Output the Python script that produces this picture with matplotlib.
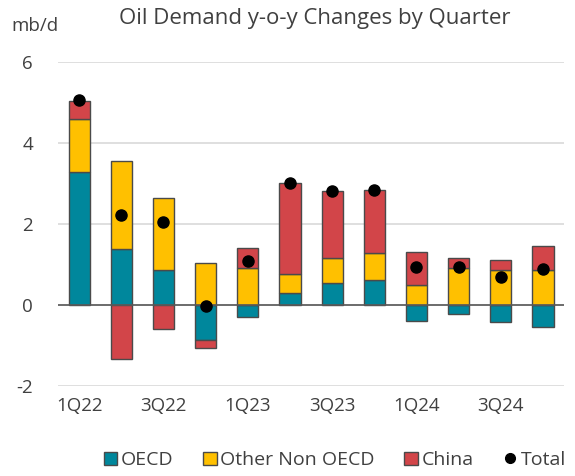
import matplotlib
matplotlib.use("Agg")
import matplotlib.pyplot as plt
import numpy as np
from matplotlib.patches import Patch
from matplotlib.lines import Line2D

quarters = ["1Q22", "2Q22", "3Q22", "4Q22", "1Q23", "2Q23", "3Q23", "4Q23",
            "1Q24", "2Q24", "3Q24", "4Q24"]
oecd = [3.27, 1.38, 0.86, -0.87, -0.30, 0.29, 0.54, 0.61, -0.39, -0.22, -0.41, -0.55]
other_non_oecd = [1.32, 2.18, 1.78, 1.04, 0.91, 0.48, 0.61, 0.68, 0.50, 0.92, 0.86, 0.86]
china = [0.45, -1.34, -0.59, -0.20, 0.49, 2.25, 1.66, 1.56, 0.81, 0.25, 0.24, 0.59]
total = [5.05, 2.22, 2.05, -0.03, 1.09, 3.02, 2.81, 2.85, 0.93, 0.95, 0.69, 0.90]

series = [("OECD", oecd, "#00879C"), ("Other Non OECD", other_non_oecd, "#FFC000"),
          ("China", china, "#D24549")]

plt.rcParams['font.family'] = ['Open Sans', 'DejaVu Sans']
plt.rcParams['axes.unicode_minus'] = False
text_color = "#404040"

fig = plt.figure(figsize=(5.75, 4.76), dpi=100)
ax = fig.add_axes([0.101, 0.189, 0.880, 0.681])

x = np.arange(len(quarters))
pos_base = np.zeros(len(quarters))
neg_base = np.zeros(len(quarters))
for name, vals, col in series:
    v = np.array(vals)
    bottoms = np.where(v >= 0, pos_base, neg_base)
    ax.bar(x, v, bottom=bottoms, width=0.5, color=col, edgecolor="#4a4a4a",
           linewidth=1.0, zorder=3)
    pos_base = pos_base + np.where(v >= 0, v, 0)
    neg_base = neg_base + np.where(v < 0, v, 0)

ax.plot(x, total, "o", color="black", markersize=8, zorder=5, linestyle="none")

ax.set_xlim(-0.5, len(quarters) - 0.5)
ax.set_ylim(-2, 6)
ax.set_yticks([-2, 0, 2, 4, 6])
ax.grid(axis="y", color="#d9d9d9", linewidth=1.2, zorder=0)
ax.axhline(0, color="#595959", linewidth=1.2, zorder=4)
for s in ax.spines.values():
    s.set_visible(False)
ax.set_xticks(x[::2])
ax.set_xticklabels(quarters[::2])
ax.tick_params(axis="both", length=0, labelsize=13.5, colors=text_color)
ax.tick_params(axis="x", pad=8)
ax.tick_params(axis="y", pad=18)

fig.text(0.02, 0.945, "mb/d", fontsize=13.5, color=text_color, ha="left", va="center")
fig.text(0.548, 0.962, "Oil Demand y-o-y Changes by Quarter", fontsize=16,
         color=text_color, ha="center", va="center")

handles = [Patch(facecolor=c, edgecolor="#4a4a4a", label=n) for n, _, c in series]
handles.append(Line2D([], [], marker="o", color="black", linestyle="none",
                      markersize=7, label="Total"))
leg = fig.legend(handles=handles, loc="center", bbox_to_anchor=(0.582, 0.033), ncol=4,
                 frameon=False, fontsize=14, handlelength=0.7, handleheight=0.7,
                 handletextpad=0.2, columnspacing=1.5, borderaxespad=0, borderpad=0)
for t in leg.get_texts():
    t.set_color(text_color)

fig.savefig("out.png", dpi=100)
